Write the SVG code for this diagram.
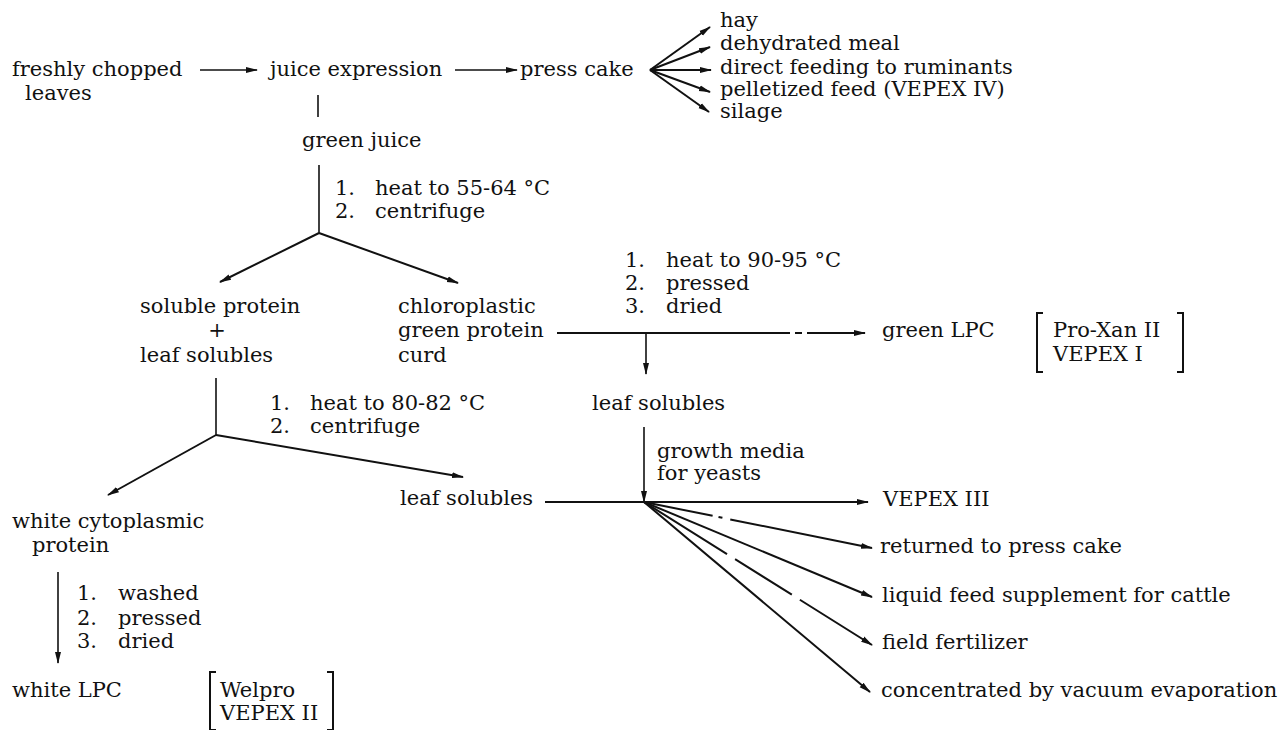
<svg xmlns="http://www.w3.org/2000/svg" width="1279" height="730" viewBox="0 0 1279 730">
<style>
text{font-family:"DejaVu Serif","Liberation Serif",serif;font-size:21px;fill:#111}
.c{stroke:#111;stroke-width:2;fill:none}
.t{stroke-width:1.6}
.a{marker-end:url(#ah)}
</style>
<defs>
<marker id="ah" markerUnits="userSpaceOnUse" markerWidth="12" markerHeight="8" refX="11" refY="4" orient="auto"><path d="M0,1 L12,4 L0,7 z" fill="#111"/></marker>
</defs>
<rect width="1279" height="730" fill="#fff"/>
<g id="connectors">
<line class="c t a" x1="200" y1="70" x2="257" y2="70"/>
<line class="c t a" x1="455" y1="70" x2="517" y2="70"/>
<line class="c t" x1="318" y1="95" x2="318" y2="117"/>
<line class="c a" x1="650" y1="70" x2="710" y2="27"/>
<line class="c a" x1="650" y1="70" x2="710" y2="47"/>
<line class="c a" x1="650" y1="70" x2="711" y2="70"/>
<line class="c a" x1="650" y1="70" x2="710" y2="92"/>
<line class="c a" x1="650" y1="70" x2="709" y2="112"/>
<line class="c t" x1="319" y1="165" x2="319" y2="233"/>
<line class="c a" x1="319" y1="233" x2="220" y2="282"/>
<line class="c a" x1="319" y1="233" x2="458" y2="283"/>
<line class="c a" x1="557" y1="333" x2="865" y2="333" stroke-dasharray="233 5 7 5 300"/>
<line class="c t a" x1="646" y1="333" x2="646" y2="374"/>
<line class="c t a" x1="644" y1="427" x2="644" y2="502"/>
<line class="c t" x1="216" y1="378" x2="216" y2="435"/>
<line class="c a" x1="216" y1="435" x2="108" y2="495"/>
<line class="c a" x1="216" y1="435" x2="463" y2="477"/>
<line class="c a" x1="545" y1="502" x2="868" y2="502"/>
<line class="c a" x1="644" y1="502" x2="872" y2="548" stroke-dasharray="70 6 4 8 300"/>
<line class="c a" x1="644" y1="502" x2="872" y2="597"/>
<line class="c a" x1="644" y1="502" x2="872" y2="645" stroke-dasharray="98 9.5 67 9.5 300"/>
<line class="c a" x1="644" y1="502" x2="870" y2="692"/>
<line class="c t a" x1="58" y1="572" x2="58" y2="663"/>
</g>
<g id="n-leaves"><text x="12" y="76">freshly chopped</text><text x="25" y="100">leaves</text></g>
<g id="n-juice-expression"><text x="270" y="76">juice expression</text></g>
<g id="n-press-cake"><text x="520" y="76">press cake</text></g>
<g id="n-press-uses">
<text x="720" y="27">hay</text>
<text x="720" y="50">dehydrated meal</text>
<text x="720" y="74">direct feeding to ruminants</text>
<text x="720" y="96">pelletized feed (VEPEX IV)</text>
<text x="720" y="118">silage</text>
</g>
<g id="n-green-juice"><text x="302" y="147">green juice</text></g>
<g id="l-step1">
<text x="335" y="195">1.</text><text x="375" y="195">heat to 55-64 °C</text>
<text x="335" y="218">2.</text><text x="375" y="218">centrifuge</text>
</g>
<g id="n-soluble-protein">
<text x="140" y="313">soluble protein</text>
<text x="217" y="337" text-anchor="middle">+</text>
<text x="140" y="362">leaf solubles</text>
</g>
<g id="n-chloroplastic">
<text x="398" y="313">chloroplastic</text>
<text x="398" y="337">green protein</text>
<text x="398" y="362">curd</text>
</g>
<g id="l-step2">
<text x="625" y="267">1.</text><text x="666" y="267">heat to 90-95 °C</text>
<text x="625" y="290">2.</text><text x="666" y="290">pressed</text>
<text x="625" y="313">3.</text><text x="666" y="313">dried</text>
</g>
<g id="n-green-lpc">
<text x="882" y="337">green LPC</text>
<path class="c" d="M1043,313 H1037 V372 H1043 M1177,313 H1183 V372 H1177"/>
<text x="1053" y="337">Pro-Xan II</text>
<text x="1053" y="361">VEPEX I</text>
</g>
<g id="n-leaf-solubles-mid"><text x="592" y="410">leaf solubles</text></g>
<g id="l-growth"><text x="657" y="458">growth media</text><text x="657" y="480">for yeasts</text></g>
<g id="l-step3">
<text x="270" y="410">1.</text><text x="310" y="410">heat to 80-82 °C</text>
<text x="270" y="433">2.</text><text x="310" y="433">centrifuge</text>
</g>
<g id="n-leaf-solubles-low"><text x="400" y="505">leaf solubles</text></g>
<g id="n-outputs">
<text x="883" y="506">VEPEX III</text>
<text x="880" y="553">returned to press cake</text>
<text x="882" y="602">liquid feed supplement for cattle</text>
<text x="882" y="649">field fertilizer</text>
<text x="881" y="697">concentrated by vacuum evaporation</text>
</g>
<g id="n-white-cyto"><text x="12" y="528">white cytoplasmic</text><text x="32" y="552">protein</text></g>
<g id="l-step4">
<text x="77" y="600">1.</text><text x="118" y="600">washed</text>
<text x="77" y="625">2.</text><text x="118" y="625">pressed</text>
<text x="77" y="648">3.</text><text x="118" y="648">dried</text>
</g>
<g id="n-white-lpc">
<text x="12" y="697">white LPC</text>
<path class="c" d="M216,672 H210 V730 H216 M327,672 H333 V730 H327"/>
<text x="220" y="697">Welpro</text>
<text x="220" y="720">VEPEX II</text>
</g>
</svg>
